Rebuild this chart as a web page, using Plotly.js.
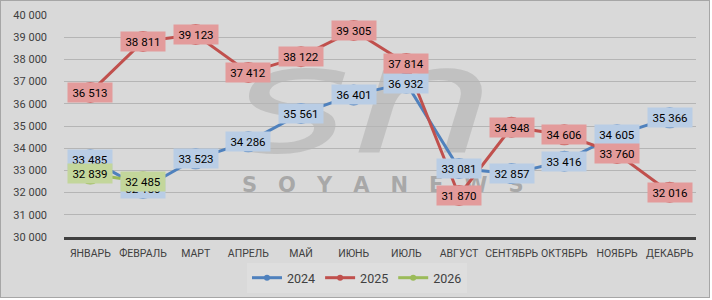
<!DOCTYPE html>
<html>
<head>
<meta charset="utf-8">
<script src="https://cdn.plot.ly/plotly-3.0.1.min.js"></script>
<style>
  html, body { margin: 0; padding: 0; background: #ffffff; }
  #wrap { position: absolute; left: 0; top: 0; width: 708px; height: 296px; border: 1px solid #a6a6a6; background: #d9d9d9; overflow: hidden; }
  #wm1 { position: absolute; left: 241px; top: 172px; font: bold 21px "DejaVu Sans", sans-serif; color: rgba(135,135,135,0.6); white-space: pre; }
  #wm2 { position: absolute; left: 228px; top: 12px; font: italic 150px "DejaVu Sans", sans-serif; color: rgba(150,150,150,0.35); white-space: pre; transform: scaleX(1.55); transform-origin: 0 0; }
  #chart { position: absolute; left: 0; top: 0; width: 708px; height: 296px; }
</style>
</head>
<body>
<div id="wrap">
  <div id="wm2">sn</div>
  <div id="wm1">S&emsp;O&emsp;Y&emsp;A&emsp;N&emsp;E&emsp;W&emsp;S</div>
  <div id="chart"></div>
</div>
<script>
const months = ['ЯНВАРЬ','ФЕВРАЛЬ','МАРТ','АПРЕЛЬ','МАЙ','ИЮНЬ','ИЮЛЬ','АВГУСТ','СЕНТЯБРЬ','ОКТЯБРЬ','НОЯБРЬ','ДЕКАБРЬ'];
const y2024 = [33485, 32180, 33523, 34286, 35561, 36401, 36932, 33081, 32857, 33416, 34605, 35366];
const y2025 = [36513, 38811, 39123, 37412, 38122, 39305, 37814, 31870, 34948, 34606, 33760, 32016];
const y2026 = [32839, 32485];
const seriesNames = ['2024', '2025', '2026'];

const lineColors = ['#4f81bd', '#c0504d', '#9bbb59'];
const labelBg = ['#b9cde5', '#e39b9b', '#c3d69b'];
const series = [y2024, y2025, y2026];

function fmt(v) { return String(v).replace(/\B(?=(\d{3})+(?!\d))/g, ' '); }

const FONT = 'Roboto, "Noto Sans", sans-serif';
const traces = [];
series.forEach((ys, k) => {
  traces.push({
    x: months.slice(0, ys.length), y: ys, type: 'scatter', mode: 'lines+markers',
    name: seriesNames[k], showlegend: false,
    line: { color: lineColors[k], width: 3 },
    marker: { color: lineColors[k], size: 21 },
    hoverinfo: 'skip'
  });
});
series.forEach((ys, k) => {
  traces.push({
    x: [null], y: [null], type: 'scatter', mode: 'lines+markers',
    name: seriesNames[k], showlegend: true,
    line: { color: lineColors[k], width: 3 },
    marker: { color: lineColors[k], size: 6 }
  });
});

const annotations = [];
series.forEach((ys, k) => {
  ys.forEach((v, i) => {
    annotations.push({
      x: months[i], y: v, xref: 'x', yref: 'y', text: fmt(v), showarrow: false,
      bgcolor: labelBg[k], borderpad: 2, width: 40, height: 15,
      font: { family: FONT, size: 11.5, color: '#000000' }
    });
  });
});

const layout = {
  width: 708, height: 296,
  margin: { l: 63, r: 13, t: 14, b: 60, autoexpand: false },
  paper_bgcolor: 'rgba(0,0,0,0)', plot_bgcolor: 'rgba(0,0,0,0)',
  separators: ', ',
  font: { family: FONT, size: 11, color: '#404040' },
  xaxis: {
    type: 'category', categoryarray: months, range: [-0.5, 11.5],
    showgrid: false, showline: true, linecolor: '#404040', linewidth: 2.5,
    ticks: '', tickangle: 0, ticklabelstandoff: 5,
    tickfont: { family: FONT, size: 10.5, color: '#404040' }, fixedrange: true
  },
  yaxis: {
    range: [30000, 40000], dtick: 1000, tickformat: ',d',
    showgrid: true, gridcolor: '#b5b5b5', gridwidth: 1, zeroline: false,
    showline: false, ticks: '', ticklabelstandoff: 16,
    tickfont: { family: FONT, size: 11, color: '#404040' }, fixedrange: true
  },
  showlegend: true,
  legend: {
    orientation: 'h', x: 0.4636, xanchor: 'center', y: -0.185, yanchor: 'middle',
    bgcolor: '#dedede', font: { family: FONT, size: 12.5, color: '#404040' },
    itemwidth: 30, tracegroupgap: 0
  },
  annotations: annotations
};

Plotly.newPlot('chart', traces, layout, { staticPlot: true, displayModeBar: false });
</script>
</body>
</html>
